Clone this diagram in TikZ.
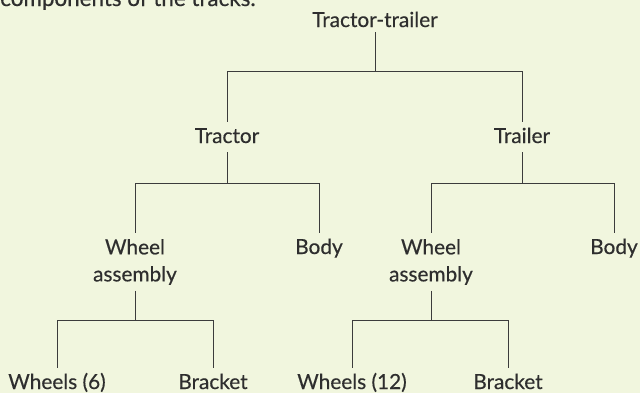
\documentclass[tikz,border=0pt]{standalone}
\usepackage{fontspec}
\setmainfont{Lato}
\newfontfamily\labelfont[FakeBold=0.4]{Lato}
\definecolor{paper}{HTML}{F1F6DE}
\definecolor{ink}{HTML}{2E2E2E}
\definecolor{wire}{HTML}{3C3C3C}
\tikzset{
  part/.style={text=ink, font=\labelfont\fontsize{15.6}{20.25}\selectfont,
    inner xsep=0pt, inner ysep=4.5pt, outer sep=0pt,
    text height=11.25pt, text depth=2.25pt},
  duo/.style={text=ink, font=\labelfont\fontsize{15.6}{20.25}\selectfont,
    align=center, inner xsep=0pt, inner ysep=4.5pt, outer sep=0pt},
  link/.style={wire, line width=0.75pt}
}
\begin{document}
\begin{tikzpicture}[x=0.75pt, y=-0.75pt]
  \useasboundingbox (0,0) rectangle (640,393);
  \fill[paper] (0,0) rectangle (640,393);

  % caption line, cut by the top edge
  \node[anchor=base west, inner sep=0pt, text=ink,
    font=\labelfont\fontsize{16.8}{20.25}\selectfont] (caption) at (0,6)
    {components of the tracks.};

  % levels of the tree
  \node[part, inner ysep=1.5pt] (root) at (375,21) {Tractor-trailer};
  \node[part] (tractor) at (227,137) {Tractor};
  \node[part] (trailer) at (522,137) {Trailer};
  \node[duo] (twa) at (135,262) {Wheel\\assembly};
  \node[part] (tbody) at (319,248) {Body};
  \node[duo] (rwa) at (431,262) {Wheel\\assembly};
  \node[part] (rbody) at (614,248) {Body};
  \node[part] (tw6) at (57,383) {Wheels (6)};
  \node[part] (tbr) at (213,383) {Bracket};
  \node[part] (rw12) at (352,383) {Wheels (12)};
  \node[part] (rbr) at (508,383) {Bracket};

  % connectors
  \foreach \kid in {tractor,trailer}
    \draw[link] (root.south) -- ++(0,39) -| (\kid.north);
  \foreach \kid in {twa,tbody}
    \draw[link] (tractor.south) -- ++(0,31) -| (\kid.north);
  \foreach \kid in {rwa,rbody}
    \draw[link] (trailer.south) -- ++(0,31) -| (\kid.north);
  \foreach \kid in {tw6,tbr}
    \draw[link] (twa.south) -- ++(0,30) -| (\kid.north);
  \foreach \kid in {rw12,rbr}
    \draw[link] (rwa.south) -- ++(0,30) -| (\kid.north);
\end{tikzpicture}
\end{document}
